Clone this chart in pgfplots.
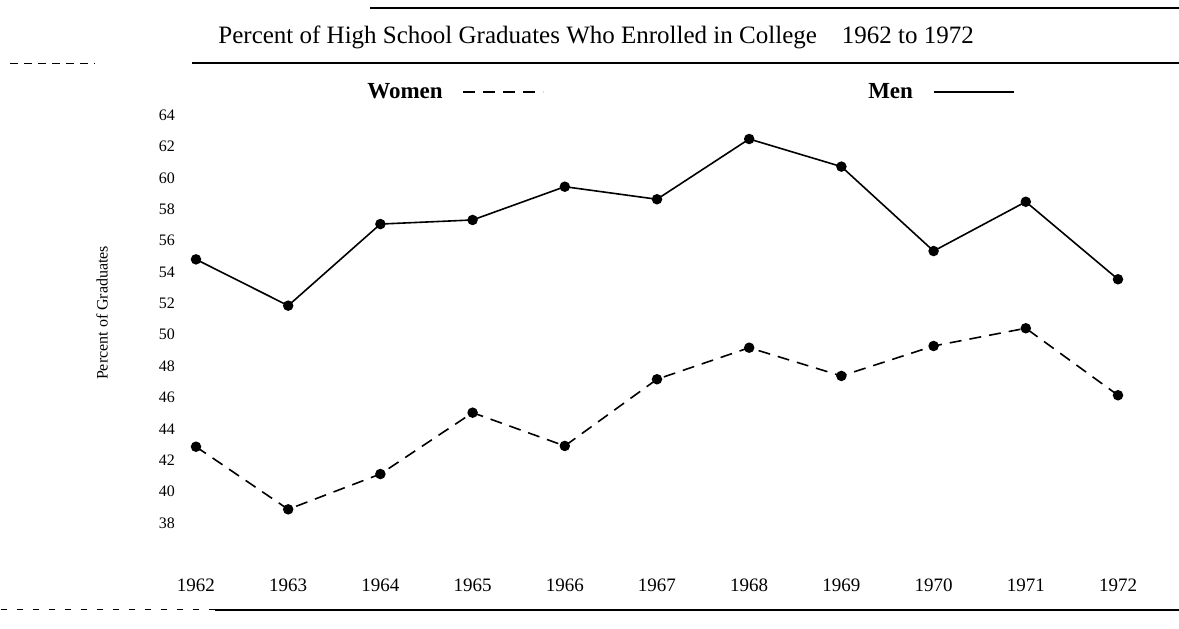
\documentclass[border=0pt]{standalone}
\usepackage{fontspec}
\setmainfont{Liberation Serif}
\usepackage{pgfplots}
\pgfplotsset{compat=1.18}

\begin{document}
\begin{tikzpicture}
\begin{axis}[
    scale only axis,
    width=461pt, height=204pt,
    xmin=1962, xmax=1972,
    ymin=38, ymax=64,
    xtick={1962,1963,...,1972},
    ytick={38,40,...,64},
    clip=false,
    axis line style={draw=none},
    tick style={draw=none},
    major tick length=0pt,
    /pgf/number format/assume math mode=true,
    /pgf/number format/1000 sep={},
    x tick label style={font=\fontsize{9.5}{11}\selectfont, yshift=-24.5pt},
    y tick label style={font=\fontsize{8}{9}\selectfont, xshift=-7pt},
    ylabel={Percent of Graduates},
    ylabel style={at={(axis description cs:-0.102,0.515)}, anchor=center,
                  font=\fontsize{8}{9}\selectfont},
    title={Percent of High School Graduates Who Enrolled in College\quad 1962 to 1972},
    title style={at={(axis description cs:0.434,1.16)}, anchor=center,
                 font=\fontsize{12.5}{14}\selectfont},
    legend columns=2,
    legend plot pos=right,
    legend image code/.code={\draw[#1,mark=none] (0pt,0pt) -- (40pt,0pt);},
    legend style={at={(0.181,1.056)}, anchor=west, draw=none, fill=none,
                  inner sep=0pt,
                  font=\bfseries\fontsize{11.5}{13}\selectfont,
                  /tikz/every odd column/.append style={column sep=8pt},
                  /tikz/every even column/.append style={column sep=160pt}},
]
% women, dashed
\addplot[black, line width=0.8pt, dash pattern=on 6pt off 4pt,
         mark=*, mark size=2.2pt, mark options={solid, fill=black}] coordinates {
    (1962,42.86) (1963,38.87) (1964,41.12) (1965,45.03) (1966,42.91)
    (1967,47.16) (1968,49.17) (1969,47.37) (1970,49.28) (1971,50.41) (1972,46.14)
};
\addlegendentry{Women}
% men, solid
\addplot[black, line width=0.8pt,
         mark=*, mark size=2.2pt, mark options={fill=black}] coordinates {
    (1962,54.80) (1963,51.85) (1964,57.05) (1965,57.31) (1966,59.43)
    (1967,58.63) (1968,62.47) (1969,60.71) (1970,55.33) (1971,58.47) (1972,53.53)
};
\addlegendentry{Men}

% frame rules of the scanned page
\draw[line width=1.2pt] (rel axis cs:0.189,1.262) -- (rel axis cs:1.066,1.262);
\draw[line width=0.8pt] (rel axis cs:-0.004,1.127) -- (rel axis cs:1.066,1.127);
\draw[line width=0.6pt, dash pattern=on 4pt off 3pt] (rel axis cs:-0.202,1.127) -- (rel axis cs:-0.110,1.127);
\draw[line width=0.8pt] (rel axis cs:0.021,-0.213) -- (rel axis cs:1.066,-0.213);
\draw[line width=0.6pt, dash pattern=on 3pt off 5pt] (rel axis cs:-0.212,-0.213) -- (rel axis cs:0.021,-0.213);
\end{axis}
\pgfresetboundingbox
\path[use as bounding box] ([xshift=-98pt,yshift=-53pt]current axis.south west)
    rectangle ([xshift=30.5pt,yshift=57.5pt]current axis.north east);
\end{tikzpicture}
\end{document}
